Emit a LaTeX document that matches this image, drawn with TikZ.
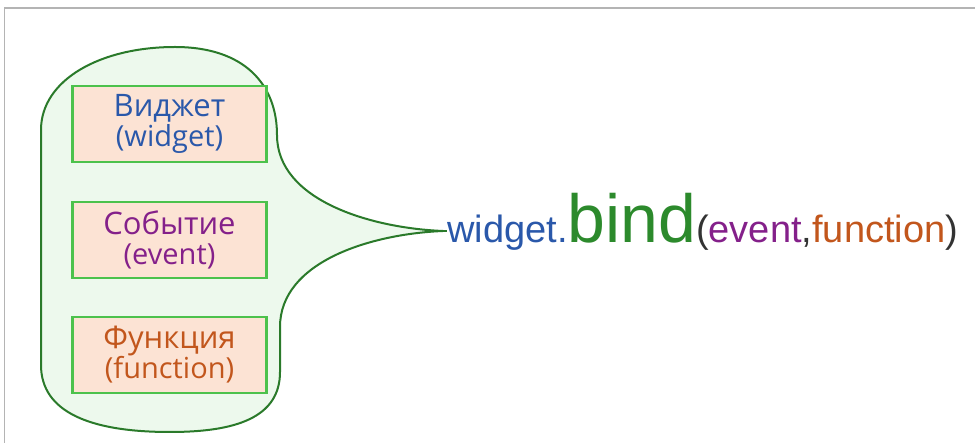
\documentclass[tikz,border=0pt]{standalone}
\usepackage{fontspec}
\setmainfont{Liberation Sans}
\newfontfamily\boxfont{Open Sans}
\newcommand\subline[1]{{\fontsize{29}{30}\selectfont #1}}
\definecolor{blobfill}{HTML}{EDF9ED}
\definecolor{blobline}{HTML}{2A7A2A}
\definecolor{boxfill}{HTML}{FCE3D4}
\definecolor{boxline}{HTML}{4CC24C}
\definecolor{wblue}{HTML}{2A58AA}
\definecolor{epurple}{HTML}{84208A}
\definecolor{forange}{HTML}{C2561C}
\definecolor{bgreen}{HTML}{2C8A2C}
\definecolor{frame}{HTML}{B4B4B4}
\definecolor{paren}{HTML}{333333}
\tikzset{
  blob/.style={draw=blobline, fill=blobfill, line width=2pt},
  argbox/.style={draw=boxline, fill=boxfill, line width=2.4pt, minimum width=194pt,
    minimum height=76pt, align=center, inner sep=0pt,
    font=\boxfont\fontsize{31}{30}\selectfont},
  framelines/.style={draw=frame, line width=1.5pt}
}
\begin{document}
\begin{tikzpicture}[x=1pt,y=-1pt]
\useasboundingbox (0,0) rectangle (975,443);
\fill[white] (0,0) rectangle (975,443);
\draw[framelines] (4.5,443) -- (4.5,8) -- (975,8);
\path[blob] (175,47) .. controls (245,47) and (277,85) .. (277,135)
  .. controls (277,200) and (370,228) .. (443,231)
  .. controls (370,234) and (280,262) .. (280,327)
  -- (280,372) .. controls (280,418) and (235,432) .. (170,432)
  .. controls (90,432) and (41,412) .. (41,365)
  -- (41,130) .. controls (41,80) and (100,47) .. (175,47) -- cycle;
\coordinate (tip) at (443,231);
\node[argbox, text=wblue] (wbox) at (169.5,124) {Виджет\\\subline{(widget)}};
\node[argbox, text=epurple] (ebox) at (169.5,240) {Событие\\\subline{(event)}};
\node[argbox, text=forange] (fbox) at (169.5,355) {Функция\\\subline{(function)}};
\node[anchor=base west, inner sep=0pt, font=\fontsize{38}{40}\selectfont] (call) at (447,243)
  {\textcolor{wblue}{widget.}\textcolor{bgreen}{\fontsize{68}{70}\selectfont bind}\textcolor{paren}{(}\textcolor{epurple}{event}\textcolor{paren}{,}\textcolor{forange}{function}\textcolor{paren}{)}};
\draw[blobline, line width=1.8pt] (tip) -- (call.west |- tip);
\end{tikzpicture}
\end{document}
